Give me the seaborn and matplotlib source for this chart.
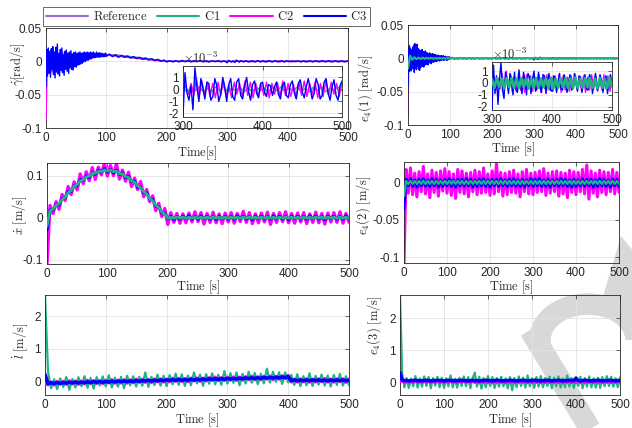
import numpy as np
import matplotlib
matplotlib.use("Agg")
import matplotlib.pyplot as plt
import seaborn as sns
from matplotlib.lines import Line2D
from matplotlib.patches import Arc, Polygon
from matplotlib.ticker import FuncFormatter
from matplotlib.transforms import Affine2D

# ---------------- data ----------------
# panel 1: gamma_dot [rad/s], values in 1e-3
g_ref = [0, 0, 1, 2, 3, 4, 6, 8, 9, 10,
         10, 9.5, 9, 8, 7, 6, 4.8, 3.6, 2.4, 1.2,
         0.2] + [0] * 30
g_c3_early = [-38, 18, -22, 20, -18, 15, -24, 19,
              -12, 22, -20, 14, -25, 21, -16, 26,
              -19, 12, -22, 18, -14, 20, -17, 10,
              -21, 15, -12, 17, -15, 12, -18, 14,
              -10, 16, -12, 11, -13, 13, -8, 14,
              -9, 12, -6, 13, -5, 14, -4, 12,
              -3, 13, -1, 14, 0, 13, 1, 14,
              2, 13, 3, 14, 4, 13, 5, 14,
              6, 12, 6, 14, 7, 12, 6, 13,
              7, 12, 7, 12, 7, 11, 7, 12,
              8]
g_c3_mid = [11, 7, 10, 6, 9, 6, 8, 5,
            7, 4, 6, 3, 5, 2, 4, 1,
            3, 0, 2, -1, 1, -1, 1, -1,
            1.5, -0.5, 1, -1, 1, -0.5, 1.2, -0.8,
            1, -1, 0.8, -0.6, 1.1, -0.9, 0.7]
g_c3_zoom = [-2.2, 1.4, -0.3, -0.9, 0.3, -1.7, 1.8, 0.2,
             -1.0, 0.9, 0.1, -0.8, 0.6, 0.5, -0.9, -0.6,
             0.9, 0.3, -1.0, -0.4, 1.0, 0.2, -1.0, 0.4,
             0.9, -0.6, -0.9, 0.6, 0.9, -0.5, -0.8, 0.3,
             1.0, -0.2, -0.9, 0.4, 0.7, -0.3, -0.7, 0.5,
             0.6, -0.2, -0.6, 0.4, 0.3, -0.5, 0.2, 0.6,
             -0.4, -0.8, 0.3, 0.6, -0.5, -0.7, 0.4, 0.7,
             -0.3, -0.8, 0.5, 0.8, -0.2, -0.7, 0.2, 0.9,
             0.1, -0.8, -0.3, 0.9, 0.4, -0.8, -0.5, 0.6,
             0.9, -0.3, -0.9, 0.2, 0.8, -0.5, -0.9, 0.3,
             0.7]
g_c2_early = [-88, 15, -14, 12, -16, 13, -12, 17, -15, 11,
              -13, 14, -10, 12, -11, 9, -8, 11, -7, 12,
              -5, 10, -3, 12, -2, 11, 0, 12, 2, 11,
              4, 12, 5, 11, 6, 12, 6, 11, 7, 12, 8]
g_c2_mid = [9, 8, 7, 6, 5, 4, 3, 2, 1, 0.5,
            0, 0.4, -0.3, 0.5, -0.4, 0.3, -0.5, 0.4, -0.3, 0.2]
g_c2_zoom = [-0.2, 0.3, -0.4, 0.5, -0.5, 0.9, -0.6, 0.7, -0.5, 0.6,
             -0.6, 0.5, -0.7, 0.6, -0.5, 0.7, -0.6, 0.4, -0.7, 0.6,
             -0.4, 0.5, -0.6, 0.7, -0.5, 0.6, -0.7, 0.5, -0.6, 0.4,
             -0.5, 0.6, -0.7, 0.5, -0.4, 0.6, -0.6, 0.7, -0.5, 0.5,
             -0.6, 0.4, -0.7, 0.6, -0.5, 0.7, -0.6, 0.5, -0.4, 0.6,
             -0.7, 0.5, -0.6, 0.7, -0.5, 0.6, -0.4, 0.5, -0.6, 0.6]
g_c1_main = [0, 0.5, 1, 2, 3, 5, 7, 8.5, 9.5, 10,
             10, 9.5, 9, 8, 7, 6, 5, 3.8, 2.5, 1.3,
             0.3, 0, 0.1, -0.1, 0.1, -0.1, 0.1, -0.1, 0.1, 0]
g_c1_zoom = [0.1, -0.2, 0.2, -0.1, 0.2, -0.2, 0.1, -0.2, 0.2, -0.1,
             0.2, -0.2, 0.1, -0.1, 0.2, -0.2, 0.1, -0.2, 0.2, -0.1,
             0.1, -0.2, 0.2, -0.1, 0.2, -0.2, 0.1, -0.1, 0.2, -0.2,
             0.1, -0.2, 0.2, -0.1, 0.2, -0.2, 0.1, -0.1, 0.2, -0.1]

# panel 2: e4(1) [rad/s], values in 1e-3
e1_c3_early = [-40, 16, -20, 18, -15, 14, -19, 12,
               -10, 17, -16, 20, -21, 22, -14, 19,
               -17, 21, -12, 15, -16, 13, -18, 11,
               -14, 12, -11, 13, -12, 10, -13, 9,
               -10, 11, -8, 9, -9, 8, -10, 7,
               -7, 8, -6, 7, -8, 6, -5, 7,
               -6, 5, -5, 6, -4, 5, -5, 4,
               -4, 5, -3, 4, -4, 3, -3, 4,
               -3, 3, -2, 4, -3, 2, -2, 3,
               -2, 2, -3, 2, -2, 2, -1, 2,
               -1]
e1_c3_mid = [1.5, -1.2, 1, -1, 1.2, -0.8, 1, -1,
             0.9, -0.8, 1, -0.7, 0.8, -0.9, 0.7, -0.8,
             0.9, -0.6, 0.8, -0.7, 0.6, -0.8, 0.7, -0.6,
             0.8, -0.7, 0.6, -0.8, 0.7, -0.6, 0.8, -0.7,
             0.6, -0.8, 0.7, -0.6, 0.8, -0.7, 0.6]
e1_c3_zoom = [-2.3, 1.5, -0.9, 0.6, -1.8, 0.3, 1.7, -0.6,
              -1.3, 0.9, 0.2, -0.9, 0.8, 0.4, -1.0, 0.9,
              -0.6, -0.8, 1.1, -0.2, -0.9, 0.9, 0.3, -1.0,
              0.8, 0.5, -0.9, 0.3, 1.0, -0.7, -0.4, 0.9,
              -0.2, -0.8, 0.7, 0.6, -0.9, 0.2, 0.8, -0.6,
              -0.7, 0.6, 0.5, -0.8, -0.1, 0.8, -0.5, -0.6,
              0.7, 0.3, -0.8, 0.1, 0.7, -0.6, -0.4, 0.8,
              -0.1, -0.7, 0.6, 0.5, -0.8, 0.2, 0.7, -0.5,
              -0.6, 0.7, 0.4, -0.9, 0.1, 0.8, -0.6, -0.4,
              0.7, 0.2, -0.8, 0.3, 0.6, -0.9, 0.1, 0.7,
              -0.3]
e1_c2_early = [-88, 20, -12, 10, -13, 12, -9, 11, -10, 8,
               -9, 9, -7, 8, -8, 6, -6, 7, -5, 6,
               -5, 4, -4, 5, -3, 4, -4, 3, -3, 3,
               -2, 3, -2, 2, -3, 2, -2, 2, -1, 2, -1]
e1_c2_mid = [1, -0.8, 0.9, -0.7, 0.8, -0.9, 0.7, -0.8, 0.6, -0.7,
             0.8, -0.6, 0.7, -0.8, 0.6, -0.7, 0.8, -0.6, 0.7, -0.5]
e1_c2_zoom = [-0.3, 0.5, -0.6, 0.4, -0.5, 0.8, -0.7, 1.0, -0.6, 0.7,
              -0.8, 0.6, -0.7, 0.8, -0.6, 0.5, -0.8, 0.7, -0.5, 0.6,
              -0.7, 0.5, -0.6, 0.7, -0.8, 0.6, -0.5, 0.7, -0.6, 0.5,
              -0.7, 0.6, -0.5, 0.7, -0.8, 0.6, -0.6, 0.5, -0.7, 0.6,
              -0.5, 0.7, -0.6, 0.5, -0.7, 0.6, -0.8, 0.5, -0.6, 0.7,
              -0.5, 0.6, -0.7, 0.5, -0.6, 0.7, -0.5, 0.6, -0.7, 0.4]
e1_c1_main = [-15, 4, -2, 1.5, -1.2, 1, -1, 1, -0.8, 0.8,
              -0.6, 0.6, -0.5, 0.5, -0.5, 0.5, -0.4, 0.4, -0.4, 0.4,
              -0.4, 0.4, -0.35, 0.4, -0.4, 0.35, -0.4, 0.4, -0.4, 0.35,
              -0.4, 0.4, -0.35, 0.4, -0.4, 0.4, -0.4, 0.35, -0.4, 0.4,
              -0.4, 0.35, -0.4, 0.4, -0.4, 0.4, -0.35, 0.4, -0.4, 0.4,
              -0.4, 0.4, -0.4, 0.35, -0.4, 0.4, -0.4, 0.4, -0.35, 0.4]
e1_c1_zoom = [0.3, -0.4, 0.4, -0.3, 0.35, -0.45, 0.4, -0.35, 0.4, -0.4,
              0.35, -0.4, 0.4, -0.35, 0.4, -0.45, 0.35, -0.4, 0.4, -0.4,
              0.35, -0.35, 0.4, -0.4, 0.4, -0.45, 0.35, -0.4, 0.4, -0.35,
              0.4, -0.4, 0.35, -0.4, 0.45, -0.4, 0.35, -0.4, 0.4, -0.35,
              0.4, -0.4, 0.35, -0.45, 0.4, -0.4, 0.35, -0.4, 0.4, -0.3]

# panel 3: x_dot [m/s], 5 s steps; deviations in 1e-3
x_ref = [0.000, 0.015, 0.022, 0.028, 0.035, 0.042, 0.050, 0.058, 0.066, 0.073,
         0.080, 0.086, 0.091, 0.096, 0.100, 0.104, 0.107, 0.109, 0.111, 0.112,
         0.112, 0.112, 0.111, 0.109, 0.106, 0.103, 0.099, 0.094, 0.089, 0.083,
         0.077, 0.070, 0.063, 0.055, 0.047, 0.039, 0.031, 0.023, 0.015, 0.007,
         0.000] + [0.0] * 60
x_c2_dev = [-110, 14, -12, 10, -15, 13, -9, 16, -11, 12,
            -14, 18, -10, 13, -12, 15, -16, 11, -9, 17,
            -13, 12, -11, 19, -14, 10, -12, 14, -15, 11,
            -10, 16, -13, 12, -9, 13, -14, 11, -12, 15,
            -16, 12, -11, 10, -13, 9, -12, 11, -10, 14,
            -9, 12, -15, 10, -11, 13, -12, 9, -14, 11,
            -10, 12, -13, 10, -9, 15, -11, 12, -14, 9,
            -12, 11, -10, 13, -16, 10, -11, 12, -9, 14,
            -12, 10, -13, 11, -10, 12, -14, 9, -11, 13,
            -12, 10, -15, 11, -10, 12, -11, 14, -13, 10,
            -11]
x_c3_dev = [-30, 4, -4, 3, -5, 4, -3, 5, -4, 3,
            -4, 5, -3, 4, -5, 3, -4, 4, -3, 5,
            -4, 3, -5, 4, -3, 4, -4, 5, -3, 4,
            -5, 3, -4, 4, -3, 5, -4, 3, -4, 4,
            -3, 4, -5, 3, -4, 4, -3, 5, -4, 3,
            -4, 5, -3, 4, -4, 3, -5, 4, -3, 4,
            -4, 3, -4, 5, -3, 4, -4, 3, -5, 4,
            -3, 4, -4, 3, -4, 5, -3, 4, -4, 3,
            -5, 4, -3, 4, -4, 3, -4, 5, -3, 4,
            -4, 3, -5, 4, -3, 4, -4, 3, -4, 5,
            -3]
x_c1_dev = [-20, 1.5, -1.5, 1.2, -1.6, 1.5, -1.3, 1.6, -1.5, 1.4,
            -1.5, 1.6, -1.4, 1.5, -1.6, 1.3, -1.5, 1.5, -1.4, 1.6,
            -1.5, 1.4, -1.6, 1.5, -1.3, 1.5, -1.5, 1.6, -1.4, 1.5,
            -1.6, 1.5, -1.4, 1.3, -1.5, 1.6, -1.5, 1.4, -1.6, 1.5,
            -1.4, 1.5, -1.5, 1.6, -1.3, 1.5, -1.6, 1.4, -1.5, 1.5,
            -1.5, 1.4, -1.6, 1.5, -1.4, 1.6, -1.5, 1.3, -1.5, 1.6,
            -1.4, 1.5, -1.5, 1.4, -1.6, 1.5, -1.3, 1.6, -1.5, 1.4,
            -1.6, 1.5, -1.4, 1.5, -1.5, 1.6, -1.4, 1.5, -1.3, 1.5,
            -1.5, 1.6, -1.5, 1.4, -1.6, 1.5, -1.4, 1.5, -1.5, 1.6,
            -1.4, 1.5, -1.6, 1.5, -1.3, 1.4, -1.5, 1.6, -1.5, 1.5,
            -1.4]

# panel 4: e4(2) [m/s], values in 1e-3
e2_c2 = [-108, 18, -14, 20, -16, 13, -19, 15, -12, 22,
         -15, 12, -20, 17, -13, 14, -18, 16, -11, 19,
         -14, 15, -17, 12, -21, 18, -13, 16, -15, 13,
         -19, 14, -12, 17, -16, 15, -14, 20, -13, 12,
         -17, 16, -15, 26, -12, 14, -18, 13, -16, 15,
         -13, 17, -14, 12, -19, 15, -12, 18, -15, 13,
         -16, 14, -13, 16, -12, 19, -17, 13, -14, 15,
         -12, 16, -18, 14, -15, 13, -20, 17, -13, 15,
         -16, 14, -12, 18, -15, 24, -22, 16, -14, 13,
         -19, 17, -13, 15, -16, 14, -12, 18, -15, 14,
         -13]
e2_c3 = [-35, 5, -4, 6, -5, 4, -6, 5, -4, 6,
         -5, 4, -5, 6, -4, 5, -6, 4, -5, 5,
         -4, 6, -5, 4, -6, 5, -4, 5, -5, 6,
         -4, 5, -6, 4, -5, 5, -4, 6, -5, 4,
         -6, 5, -4, 5, -5, 6, -4, 4, -5, 5,
         -4, 6, -5, 4, -5, 5, -6, 4, -4, 6,
         -5, 5, -4, 6, -5, 4, -5, 5, -6, 4,
         -4, 5, -5, 6, -4, 5, -5, 4, -6, 5,
         -5, 4, -4, 6, -5, 5, -4, 5, -6, 4,
         -5, 6, -4, 5, -5, 4, -6, 5, -4, 5,
         -5]
e2_c1 = [-18, 2.5, -1.5, 2.5, -1.5, 2.4, -1.6, 2.5, -1.5, 2.6,
         -1.5, 2.5, -1.4, 2.5, -1.5, 2.5, -1.6, 2.4, -1.5, 2.5,
         -1.5, 2.6, -1.5, 2.5, -1.4, 2.5, -1.5, 2.5, -1.6, 2.5,
         -1.5, 2.4, -1.5, 2.5, -1.5, 2.6, -1.4, 2.5, -1.5, 2.5,
         -1.6, 2.5, -1.5, 2.4, -1.5, 2.5, -1.5, 2.6, -1.5, 2.5,
         -1.4, 2.5, -1.5, 2.5, -1.6, 2.4, -1.5, 2.5, -1.5, 2.6,
         -1.5, 2.5, -1.4, 2.5, -1.5, 2.5, -1.6, 2.5, -1.5, 2.4,
         -1.5, 2.5, -1.5, 2.6, -1.4, 2.5, -1.5, 2.5, -1.6, 2.5,
         -1.5, 2.4, -1.5, 2.5, -1.5, 2.6, -1.5, 2.5, -1.4, 2.5,
         -1.5, 2.5, -1.6, 2.4, -1.5, 2.5, -1.5, 2.6, -1.5, 2.5,
         -1.5]

# panel 5: l_dot [m/s], 5 s steps; deviations in 1e-2
l_ref = [-0.070, -0.068, -0.065, -0.063, -0.060, -0.058, -0.056, -0.053, -0.051, -0.049,
         -0.047, -0.044, -0.042, -0.040, -0.037, -0.035, -0.033, -0.030, -0.028, -0.026,
         -0.024, -0.021, -0.019, -0.017, -0.014, -0.012, -0.010, -0.007, -0.005, -0.003,
         0.000, 0.002, 0.004, 0.007, 0.009, 0.011, 0.014, 0.016, 0.018, 0.021,
         0.023, 0.025, 0.028, 0.030, 0.032, 0.035, 0.037, 0.039, 0.042, 0.044,
         0.046, 0.049, 0.051, 0.053, 0.056, 0.058, 0.060, 0.063, 0.065, 0.067,
         0.070, 0.072, 0.074, 0.077, 0.079, 0.081, 0.084, 0.086, 0.088, 0.091,
         0.093, 0.095, 0.098, 0.100, 0.102, 0.105, 0.107, 0.109, 0.112, 0.114,
         0.116] + [0.02] * 20
l_c1_dev = [272, 35, -16, 12, -19, 14, -13, 18, -22, 11,
            -15, 16, -12, 19, -17, 13, -20, 15, -11, 17,
            -14, 20, -18, 12, -16, 14, -21, 17, -13, 15,
            -17, 13, -15, 26, -19, 12, -14, 18, -16, 14,
            -18, 16, -13, 20, -15, 17, -19, 13, -17, 22,
            -12, 15, -20, 16, -14, 18, -16, 13, -18, 24,
            -15, 17, -13, 19, -21, 14, -16, 20, -14, 16,
            -19, 13, -17, 28, -15, 18, -13, 16, -20, 15,
            -16, 17, -14, 19, -18, 13, -15, 22, -17, 14,
            -13, 18, -16, 15, -19, 17, -14, 20, -16, 13,
            -15]
l_c2_dev = [0, -6, 5, -7, 6, -5, 6, -6, 7, -5,
            6, -7, 5, -6, 7, -5, 6, -6, 5, -7,
            6, -5, 7, -6, 5, -6, 6, -7, 5, -6,
            7, -5, 6, -6, 5, -7, 6, -5, 6, -6,
            5, -6, 7, -5, 6, -6, 5, -7, 6, -5,
            6, -7, 5, -6, 6, -5, 7, -6, 5, -6,
            6, -5, 6, -7, 5, -6, 6, -5, 7, -6,
            5, -6, 6, -5, 6, -7, 5, -6, 6, -5,
            7, -6, 5, -6, 6, -5, 6, -7, 5, -6,
            6, -5, 7, -6, 5, -6, 6, -5, 6, -7,
            5]
l_c3_dev = [27, -1, 1, -1, 1, -1, 0.5, -1, 1, -0.5,
            1, -1, 0.5, -1, 1, -1, 1, -0.5, 1, -1,
            0.5, -1, 1, -1, 1, -0.5, 1, -1, 0.5, -1,
            1, -1, 1, -0.5, 1, -1, 0.5, -1, 1, -1,
            1, -0.5, 1, -1, 1, -1, 0.5, -1, 1, -1,
            0.5, -1, 1, -1, 1, -0.5, 1, -1, 1, -1,
            1, -1, 0.5, -1, 1, -1, 1, -0.5, 1, -1,
            0.5, -1, 1, -1, 1, -1, 0.5, -1, 1, -0.5,
            2, -1, 1, -1, 0.5, -1, 1, -1, 1, -0.5,
            1, -1, 0.5, -1, 1, -1, 1, -0.5, 1, -1,
            0.5]

# panel 6: e4(3) [m/s], values in 1e-2
e3_c1 = [272, 25, -16, 13, -18, 11, -13, 19, -17, 12,
         -14, 18, -12, 16, -19, 13, -11, 17, -16, 14,
         -18, 12, -13, 21, -16, 11, -17, 14, -12, 18,
         -13, 16, -19, 12, 30, -14, 17, -20, 13, -16,
         19, -12, 16, -18, 13, -14, 17, -13, 12, -19,
         16, -25, 13, -16, 18, -12, 14, -17, 21, -13,
         12, -18, 16, -14, 19, -16, 13, -12, 17, -19,
         14, -13, 18, -17, 12, -16, 21, -14, 13, -18,
         16, -12, 17, -19, 13, -14, 18, -16, 12, -17,
         14, -18, 16, -13, 19, -12, 17, -14, 13, -16,
         15]
e3_c2 = [0, 5, -2.5, 5.5, -3, 4.5, -2, 5, -2.5, 5.5,
         -2, 5, -3, 4.5, -2, 5, -3, 5.5, -2.5, 4.5,
         -3, 5, -2, 5.5, -2.5, 4.5, -3, 5, -2.5, 5.5,
         -2, 4.5, -3, 5, -2.5, 5.5, -3, 4.5, -2, 5,
         -2.5, 5.5, -3, 4.5, -2.5, 5, -2, 5.5, -3, 4.5,
         -2.5, 5, -3, 5.5, -2, 4.5, -2.5, 5, -3, 5.5,
         -2.5, 4.5, -2, 5, -3, 5.5, -2.5, 4.5, -3, 5,
         -2, 5.5, -2.5, 4.5, -3, 5, -2.5, 5.5, -2, 4.5,
         -3, 6.5, -2.5, 4.5, -3, 5, -2, 5.5, -2.5, 4.5,
         -3, 5, -2.5, 5.5, -2, 4.5, -3, 5, -2.5, 5.5,
         -2]
e3_c3 = [30, 6, 5, 5, 4, 5, 5, 6, 5, 4,
         5, 5, 6, 5, 4, 5, 5, 6, 5, 5,
         4, 5, 6, 5, 5, 4, 5, 5, 6, 5,
         5, 4, 5, 6, 5, 5, 4, 5, 5, 6,
         5, 5, 4, 5, 6, 5, 5, 4, 5, 5,
         6, 5, 5, 4, 5, 5, 6, 5, 4, 5,
         5, 6, 5, 5, 4, 5, 5, 6, 5, 4,
         5, 5, 6, 5, 4, 5, 5, 6, 5, 5,
         12, 5, 4, 5, 6, 5, 5, 4, 5, 5,
         6, 5, 4, 5, 5, 6, 5, 5, 4, 5,
         5]

# ---------------- style ----------------
sns.set_theme(style="white")
plt.rcParams["font.family"] = ["Liberation Sans", "DejaVu Sans"]
plt.rcParams["mathtext.fontset"] = "cm"
plt.rcParams["axes.unicode_minus"] = False

C_REF = "#9a6bdc"
C1 = "#1fb583"
C2 = "#ff00ff"
C3 = "#0000ff"
INK = "#262626"
W, H = 632, 428
TICK_FS = 8.5


def rect(l, t, r, b):
    return [l / W, 1 - b / H, (r - l) / W, (b - t) / H]


def line(ax, t, y, color, lw, z):
    sns.lineplot(x=np.asarray(t, float), y=np.asarray(y, float), ax=ax, color=color,
                 linewidth=lw, zorder=z, legend=False, errorbar=None)


def style(ax, xlim, ylim, xticks, yticks, fc="none"):
    ax.set_facecolor(fc)
    ax.set_xlim(*xlim)
    ax.set_ylim(*ylim)
    ax.set_xticks(xticks)
    ax.set_yticks(yticks)
    ax.xaxis.set_major_formatter(FuncFormatter(lambda v, p: "%g" % v))
    ax.yaxis.set_major_formatter(FuncFormatter(lambda v, p: "%g" % v))
    ax.grid(True, color="#e2e2e2", lw=0.6, zorder=0)
    ax.set_axisbelow(True)
    ax.tick_params(direction="in", top=True, right=True, length=3, width=0.5,
                   labelsize=TICK_FS, colors=INK, pad=3)
    for s in ax.spines.values():
        s.set_visible(True)
        s.set_linewidth(0.6)
        s.set_color(INK)
    ax.set_xlabel("")
    ax.set_ylabel("")


def labels(ax, box, xl, xl_y, yl, yl_x, yl_y):
    # label centres given in picture pixels
    l, t, r, b = box
    ax.set_xlabel(xl, fontsize=9, color=INK)
    ax.xaxis.set_label_coords(0.5, -(xl_y - b) / (b - t))
    ax.xaxis.label.set_va("center")
    ax.set_ylabel(yl, fontsize=9, color=INK)
    ax.yaxis.set_label_coords((yl_x - l) / (r - l), (b - yl_y) / (b - t))
    ax.yaxis.label.set_va("center")


fig = plt.figure(figsize=(6.32, 4.28), dpi=100)
fig.patch.set_facecolor("white")

# watermark (drawn beneath the axes)
pix = Affine2D().scale(1 / 100, -1 / 100).translate(0, H / 100) + fig.dpi_scale_trans
wm = "#d8d8d8"
fig.add_artist(Arc((588, 340), 96, 72, theta1=175, theta2=360, lw=15.5, color=wm,
                   transform=pix, zorder=-2))
fig.add_artist(Line2D([530, 592], [330, 432], lw=15.5, color=wm, transform=pix,
                      zorder=-2, solid_capstyle="butt"))
fig.add_artist(Polygon([(621, 236), (634, 252), (634, 312), (602, 300)], closed=True,
                       color=wm, transform=pix, zorder=-2, lw=0))

XT = [0, 100, 200, 300, 400, 500]
TL = r"$\mathrm{Time\ [s]}$"

# ---- panel 1 ----
b1 = (46, 28, 348, 128)
ax1 = fig.add_axes(rect(*b1))
sc = 1e-3
t_e, t_m, t_z = np.linspace(0, 100, len(g_c3_early)), np.linspace(105, 295, len(g_c3_mid)), np.linspace(300, 500, len(g_c3_zoom))
line(ax1, np.linspace(0, 500, len(g_ref)), np.array(g_ref) * sc, C_REF, 1.0, 1)
line(ax1, np.concatenate([np.linspace(0, 290, len(g_c1_main)), np.linspace(300, 500, len(g_c1_zoom))]),
     np.array(g_c1_main + g_c1_zoom) * sc, C1, 1.0, 2)
line(ax1, np.concatenate([np.linspace(0, 100, len(g_c2_early)), np.linspace(105, 295, len(g_c2_mid)),
                          np.linspace(300, 500, len(g_c2_zoom))]),
     np.array(g_c2_early + g_c2_mid + g_c2_zoom) * sc, C2, 1.0, 3)
line(ax1, np.concatenate([t_e, t_m, t_z]), np.array(g_c3_early + g_c3_mid + g_c3_zoom) * sc, C3, 1.0, 4)
style(ax1, (0, 500), (-0.1, 0.05), XT, [-0.1, -0.05, 0, 0.05])
labels(ax1, b1, r"$\mathrm{Time[s]}$", 153, r"$\dot{\gamma}\mathrm{[rad/s]}$", 18, 64)

# ---- panel 2 ----
b2 = (408, 25, 618, 125)
ax2 = fig.add_axes(rect(*b2))
line(ax2, np.concatenate([np.linspace(0, 100, len(e1_c2_early)), np.linspace(105, 295, len(e1_c2_mid)),
                          np.linspace(300, 500, len(e1_c2_zoom))]),
     np.array(e1_c2_early + e1_c2_mid + e1_c2_zoom) * sc, C2, 1.0, 2)
line(ax2, np.concatenate([np.linspace(0, 100, len(e1_c3_early)), np.linspace(105, 295, len(e1_c3_mid)),
                          np.linspace(300, 500, len(e1_c3_zoom))]),
     np.array(e1_c3_early + e1_c3_mid + e1_c3_zoom) * sc, C3, 1.0, 3)
line(ax2, np.concatenate([np.linspace(0, 295, len(e1_c1_main)), np.linspace(300, 500, len(e1_c1_zoom))]),
     np.array(e1_c1_main + e1_c1_zoom) * sc, C1, 1.6, 4)
style(ax2, (0, 500), (-0.1, 0.05), XT, [-0.1, -0.05, 0, 0.05])
labels(ax2, b2, TL, 149, r"$e_4(1)\ \mathrm{[rad/s]}$", 366, 88)

# ---- insets ----
bi1 = (183, 66, 342, 117)
ai1 = fig.add_axes(rect(*bi1))
line(ai1, np.linspace(300, 500, len(g_c1_zoom)), g_c1_zoom, C1, 1.0, 2)
line(ai1, np.linspace(300, 500, len(g_c2_zoom)), g_c2_zoom, C2, 1.0, 3)
line(ai1, t_z, g_c3_zoom, C3, 1.0, 4)
style(ai1, (300, 500), (-2.3, 1.95), [300, 400, 500], [-2, -1, 0, 1], fc="white")
ai1.text(0.0, 1.0, r"$\times10^{-3}$", transform=ai1.transAxes, fontsize=9,
         color=INK, va="bottom", ha="left")

bi2 = (492, 62, 612, 110)
ai2 = fig.add_axes(rect(*bi2))
line(ai2, np.linspace(300, 500, len(e1_c2_zoom)), e1_c2_zoom, C2, 1.0, 2)
line(ai2, np.linspace(300, 500, len(e1_c3_zoom)), e1_c3_zoom, C3, 1.0, 3)
line(ai2, np.linspace(300, 500, len(e1_c1_zoom)), e1_c1_zoom, C1, 2.0, 4)
style(ai2, (300, 500), (-2.27, 1.76), [300, 400, 500], [-2, -1, 0, 1], fc="white")
ai2.text(0.0, 1.0, r"$\times10^{-3}$", transform=ai2.transAxes, fontsize=9,
         color=INK, va="bottom", ha="left")

# ---- panel 3 ----
b3 = (47, 163, 349, 264)
ax3 = fig.add_axes(rect(*b3))
t5 = np.linspace(0, 500, len(x_ref))
xr = np.array(x_ref)
line(ax3, t5, xr, C_REF, 1.0, 1)
line(ax3, t5, xr + np.array(x_c2_dev) * 1e-3, C2, 2.4, 2)
line(ax3, t5, xr + np.array(x_c3_dev) * 1e-3, C3, 2.0, 3)
line(ax3, t5, xr + np.array(x_c1_dev) * 1e-3, C1, 2.0, 4)
style(ax3, (0, 500), (-0.11, 0.13), XT, [-0.1, 0, 0.1])
labels(ax3, b3, TL, 287, r"$\dot{x}\ \mathrm{[m/s]}$", 20, 215)

# ---- panel 4 ----
b4 = (404, 162, 619, 263)
ax4 = fig.add_axes(rect(*b4))
line(ax4, np.linspace(0, 500, len(e2_c2)), np.array(e2_c2) * 1e-3, C2, 2.2, 2)
line(ax4, np.linspace(0, 500, len(e2_c3)), np.array(e2_c3) * 1e-3, C3, 2.0, 3)
line(ax4, np.linspace(0, 500, len(e2_c1)), np.array(e2_c1) * 1e-3, C1, 1.6, 4)
style(ax4, (0, 500), (-0.108, 0.028), XT, [-0.1, -0.05, 0])
labels(ax4, b4, TL, 287, r"$e_4(2)\ \mathrm{[m/s]}$", 364, 205)

# ---- panel 5 ----
b5 = (45, 295, 349, 395)
ax5 = fig.add_axes(rect(*b5))
lr = np.array(l_ref)
t5b = np.linspace(0, 500, len(l_ref))
line(ax5, t5b, lr, C_REF, 1.0, 1)
line(ax5, t5b, lr + np.array(l_c1_dev) * 1e-2, C1, 1.6, 2)
line(ax5, t5b, lr + np.array(l_c2_dev) * 1e-2, C2, 1.8, 3)
line(ax5, t5b, lr + np.array(l_c3_dev) * 1e-2, C3, 2.6, 4)
style(ax5, (0, 500), (-0.43, 2.65), XT, [0, 1, 2])
labels(ax5, b5, TL, 420, r"$\dot{l}\ \mathrm{[m/s]}$", 20, 341)

# ---- panel 6 ----
b6 = (400, 295, 620, 395)
ax6 = fig.add_axes(rect(*b6))
line(ax6, np.linspace(0, 500, len(e3_c1)), np.array(e3_c1) * 1e-2, C1, 1.6, 2)
line(ax6, np.linspace(0, 500, len(e3_c2)), np.array(e3_c2) * 1e-2, C2, 1.8, 3)
line(ax6, np.linspace(0, 500, len(e3_c3)), np.array(e3_c3) * 1e-2, C3, 2.6, 4)
style(ax6, (0, 500), (-0.4, 2.72), XT, [0, 1, 2])
labels(ax6, b6, TL, 420, r"$e_4(3)\ \mathrm{[m/s]}$", 375, 325)

# ---- legend ----
handles = [Line2D([], [], color=c, lw=1.5) for c in (C_REF, C1, C2, C3)]
names = [r"$\mathrm{Reference}$", r"$\mathrm{C1}$", r"$\mathrm{C2}$", r"$\mathrm{C3}$"]
leg = fig.legend(handles, names, loc="center", bbox_to_anchor=(206.5 / W, 1 - 16.5 / H),
                 ncol=4, fontsize=9, frameon=True, fancybox=False, edgecolor=INK,
                 handlelength=3.4, handletextpad=0.35, columnspacing=0.8,
                 borderpad=0.25, borderaxespad=0)
leg.get_frame().set_linewidth(0.6)

fig.savefig("out.png", dpi=100)
